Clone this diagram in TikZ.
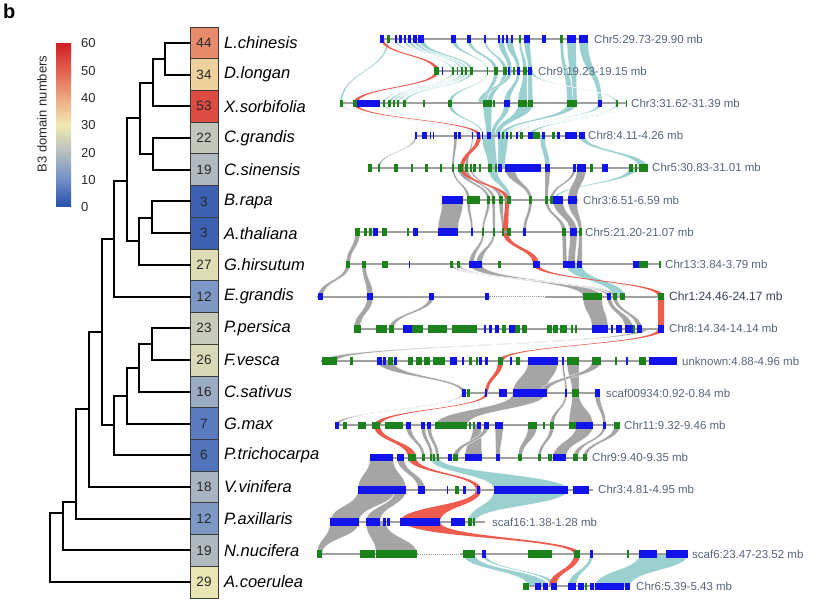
\documentclass[tikz,border=0pt]{standalone}
\usepackage{fontspec}
\setmainfont{Liberation Sans}
\usepackage{xcolor}
\usepackage{tikz}
\usetikzlibrary{calc}
% colour map of the B3 domain numbers
\definecolor{c0}{RGB}{38,78,170}
\definecolor{c1}{RGB}{112,142,200}
\definecolor{c2}{RGB}{182,190,190}
\definecolor{c3}{RGB}{240,234,178}
\definecolor{c4}{RGB}{236,168,126}
\definecolor{c5}{RGB}{226,96,76}
\definecolor{c6}{RGB}{208,30,38}
\definecolor{gB}{RGB}{18,18,235}
\definecolor{gG}{RGB}{28,130,28}
\definecolor{ribT}{RGB}{155,208,208}
\definecolor{ribG}{RGB}{165,165,165}
\definecolor{ribR}{RGB}{238,92,78}
\definecolor{labc}{RGB}{85,100,122}
\tikzstyle{tree}=[line width=2pt, line cap=rect]
\tikzstyle{nbox}=[draw={rgb,255:red,60;green,60;blue,60}, line width=.8pt, minimum width=28pt, minimum height=31.72pt, inner sep=0, font=\fontsize{13.5}{15}\selectfont, text={rgb,255:red,40;green,40;blue,40}]
\tikzstyle{sp}=[anchor=west, inner sep=0, font=\fontsize{16.5}{18}\selectfont\itshape]
\tikzstyle{tlab}=[anchor=west, inner sep=0, font=\fontsize{11.5}{13}\selectfont, text=labc]
\tikzstyle{tlabd}=[tlab, font=\fontsize{12}{13}\selectfont, text={rgb,255:red,55;green,65;blue,85}]
\tikzstyle{cbl}=[anchor=west, inner sep=0, font=\fontsize{13}{15}\selectfont, text={rgb,255:red,40;green,40;blue,40}]
\tikzstyle{bone}=[draw={rgb,255:red,160;green,160;blue,160}, line width=2pt]
\tikzstyle{rT}=[fill=ribT, draw=white, line width=.25pt]
\tikzstyle{rG}=[fill=ribG, draw=white, line width=.25pt]
\tikzstyle{rR}=[fill=ribR]
% ribbon between track #2 (#3..#4) and track #5 (#6..#7)
\newcommand{\rib}[7]{%
  \pgfmathsetmacro{\rya}{39+32.2*(#2-1)}%
  \pgfmathsetmacro{\ryb}{39+32.2*(#5-1)}%
  \pgfmathsetmacro{\rym}{(\rya+\ryb)/2}%
  \path[#1] (#3,\rya) .. controls (#3,\rym) and (#6,\rym) .. (#6,\ryb)
    -- (#7,\ryb) .. controls (#7,\rym) and (#4,\rym) .. (#4,\rya) -- cycle;}
% gene boxes on track #1
\newcommand{\genes}[2]{%
  \pgfmathsetmacro{\gy}{39+32.2*(#1-1)}%
  \foreach \a/\b/\c in {#2}{\fill[g\c] (\a,\gy-3.8) rectangle (\b,\gy+3.8);}}

\begin{document}
\begin{tikzpicture}[x=1pt,y=-1pt]
\useasboundingbox (0,0) rectangle (819,609);
\node[anchor=north west, inner sep=0, font=\fontsize{20}{22}\selectfont\bfseries] (panel) at (3,4) {b};

% colour bar
\foreach \k in {0,...,5}{
  \pgfmathtruncatemacro{\kn}{\k+1}
  \shade[bottom color=c\k, top color=c\kn] (56,{207-\k*27.33}) rectangle (71,{207-(\k+1)*27.33});
}
\foreach \t in {0,10,...,60}
  \node[cbl] (cb\t) at (81,{207.5-\t*164/60}) {\t};
\node[rotate=90, font=\fontsize{13}{15}\selectfont, text={rgb,255:red,40;green,40;blue,40}] (cbtitle) at (42,114) {B3 domain numbers};

% species boxes
\foreach \i/\v/\name in {1/44/L.chinesis, 2/34/D.longan, 3/53/X.sorbifolia, 4/22/C.grandis,
  5/19/C.sinensis, 6/3/B.rapa, 7/3/A.thaliana, 8/27/G.hirsutum, 9/12/E.grandis,
  10/23/P.persica, 11/26/F.vesca, 12/16/C.sativus, 13/7/G.max, 14/6/P.trichocarpa,
  15/18/V.vinifera, 16/12/P.axillaris, 17/19/N.nucifera, 18/29/A.coerulea}{
  \pgfmathsetmacro{\ry}{27+31.72*(\i-0.5)}
  \pgfmathtruncatemacro{\lo}{\v/10}
  \pgfmathtruncatemacro{\hi}{\lo+1}
  \pgfmathtruncatemacro{\pc}{(\v-10*\lo)*10}
  \colorlet{boxc}{c\hi!\pc!c\lo}
  \node[nbox, fill=boxc] (b\i) at (204,\ry) {\v};
  \node[sp] (s\i) at (224,\ry) {\name};
  \coordinate (t\i) at (190,\ry);
}

% tree
\coordinate (nA) at (165,59);
\coordinate (nB) at (153,83);
\coordinate (nC) at (153,154);
\coordinate (nD) at (140,118);
\coordinate (nE) at (152,218);
\coordinate (nF) at (139,241);
\coordinate (nG) at (127,181);
\coordinate (nH) at (114,239);
\coordinate (nI) at (152,344);
\coordinate (nJ) at (139,368);
\coordinate (nK) at (127,396);
\coordinate (nL) at (114,425);
\coordinate (nM) at (102,332);
\coordinate (nN) at (89,409);
\coordinate (nO) at (76,502);
\coordinate (nP) at (63,513);
\coordinate (root) at (50,545);
\draw[tree] (t1) -| (nA) (t2) -| (nA) (nA) -| (nB) (t3) -| (nB)
  (t4) -| (nC) (t5) -| (nC) (nB) -| (nD) (nC) -| (nD)
  (t6) -| (nE) (t7) -| (nE) (nE) -| (nF) (t8) -| (nF)
  (nD) -| (nG) (nF) -| (nG) (nG) -| (nH) (t9) -| (nH)
  (t10) -| (nI) (t11) -| (nI) (nI) -| (nJ) (t12) -| (nJ)
  (nJ) -| (nK) (t13) -| (nK) (nK) -| (nL) (t14) -| (nL)
  (nH) -| (nM) (nL) -| (nM) (nM) -| (nN) (t15) -| (nN)
  (nN) -| (nO) (t16) -| (nO) (nO) -| (nP) (t17) -| (nP)
  (nP) -| (root) (t18) -| (root);

% ribbons: teal
\foreach \i/\a/\b/\j/\c/\d in {1/395/397/2/452/454, 1/404/406/2/457/458, 1/408/411/2/461/463,
  1/413/417/2/465/467, 1/418/424/2/470/473, 1/451/456/2/487/488, 1/467/471/2/494/498,
  1/484/486/2/503/507, 1/498/504/2/508/512, 1/506/513/2/517/520, 1/519/521/2/523/527,
  1/524/530/2/528/532, 1/560/563/3/567/573, 1/567/576/3/573/577, 1/579/588/3/598/602,
  1/387/389/3/340/342, 2/442/443/3/343/344,
  2/452/454/3/383/385, 2/457/458/3/388/391, 2/461/463/3/393/395, 2/465/467/3/397/399,
  2/470/473/3/403/406, 2/487/488/3/448/452, 2/494/498/3/483/487, 2/503/507/3/487/492,
  2/508/512/3/478/483, 2/517/520/3/504/510, 2/523/527/3/518/527, 2/528/532/3/528/533,
  2/530/533/3/616/618, 3/340/342/4/472/474, 3/383/385/4/477/478, 3/448/452/4/482/484,
  3/483/492/4/486/491, 3/504/510/4/491/495, 3/518/533/4/495/500, 3/567/577/4/500/505,
  3/598/602/4/506/508, 3/616/618/4/516/518, 3/626/627/4/528/533, 4/482/495/5/488/497,
  4/498/508/5/498/505, 4/579/585/5/639/648, 4/540/545/5/545/550, 5/488/497/6/507/511,
  5/629/637/6/553/556, 8/566/582/9/613/625, 14/430/439/15/494/568, 15/494/568/16/468/475,
  17/463/475/18/528/548, 17/482/486/18/551/557, 17/590/593/18/568/576, 17/639/688/18/595/630}
  {\rib{rT}{\i}{\a}{\b}{\j}{\c}{\d}}

% ribbons: grey
\foreach \i/\a/\b/\j/\c/\d in {4/415/417/5/378/380, 4/454/457/5/452/454, 4/472/473/5/465/468,
  5/452/454/6/467/470, 5/458/463/6/487/490, 5/465/468/6/492/495, 5/470/472/6/499/503,
  5/505/515/6/529/532, 5/545/550/6/545/548, 5/573/576/6/550/553, 5/577/586/6/568/577,
  6/442/463/7/438/458, 6/467/470/7/471/473, 6/487/490/7/482/484, 6/492/495/7/493/495,
  6/499/503/7/502/504, 6/529/532/7/523/526, 6/545/548/7/562/566, 6/553/563/7/570/577,
  6/568/577/7/579/582, 7/355/360/8/346/350, 7/482/484/8/469/474, 7/493/495/8/476/482,
  7/562/566/8/563/567, 7/570/577/8/568/575, 7/579/582/8/577/582, 8/346/350/9/318/323,
  8/362/366/9/367/373, 8/469/482/9/583/602, 8/450/453/9/607/611, 8/457/460/9/613/617,
  9/367/373/10/354/360, 9/429/434/10/389/394, 9/583/602/10/592/608, 9/607/611/10/625/633,
  9/613/617/10/637/642, 10/640/648/11/322/337, 11/377/393/12/462/466, 11/528/558/12/513/546,
  11/562/564/12/565/567, 11/567/579/12/572/579, 11/592/601/12/540/547, 12/462/464/13/335/339,
  12/513/546/13/435/467, 12/565/567/13/550/554, 12/572/579/13/569/593, 12/595/600/13/603/606,
  13/406/411/14/422/425, 13/421/425/14/430/433, 13/427/431/14/436/439, 13/473/481/14/465/482,
  13/484/489/14/453/458, 13/495/503/14/496/500, 13/528/537/14/518/522, 13/550/554/14/538/541,
  13/576/593/14/553/566, 13/603/606/14/573/578, 13/614/620/14/583/587, 14/370/393/15/358/406,
  14/397/404/15/418/425, 15/358/395/16/330/359, 15/395/406/16/366/380, 16/330/359/17/317/322,
  16/366/386/17/376/417}
  {\rib{rG}{\i}{\a}{\b}{\j}{\c}{\d}}

% ribbons: red
\foreach \i/\a/\b/\j/\c/\d in {1/381/384/2/435/439, 2/435/439/3/353/357, 3/353/357/4/477/481,
  4/477/481/5/460/464, 5/460/464/6/505/509, 6/505/509/7/503/508, 7/503/508/8/533/539,
  8/533/539/9/658/664, 9/658/664/10/658/664, 10/658/664/11/498/503, 11/498/503/12/485/488,
  12/485/488/13/374/380, 13/374/380/14/408/416, 14/408/416/15/476/481, 15/476/481/16/400/440,
  16/405/440/17/574/580, 17/574/580/18/549/556}
  {\rib{rR}{\i}{\a}{\b}{\j}{\c}{\d}}

% tracks
\foreach \i/\xa/\xb/\lx/\ls/\lab in {1/380/588/594/tlab/{Chr5:29.73-29.90 mb}, 2/434/533/538/tlab/{Chr9:19.23-19.15 mb},
  3/340/627/631/tlab/{Chr3:31.62-31.39 mb}, 4/415/585/588/tlab/{Chr8:4.11-4.26 mb},
  5/368/648/652/tlab/{Chr5:30.83-31.01 mb}, 6/442/578/583/tlab/{Chr3:6.51-6.59 mb},
  7/356/582/585/tlab/{Chr5:21.20-21.07 mb}, 8/346/661/665/tlab/{Chr13:3.84-3.79 mb},
  9/317/664/669/tlabd/{Chr1:24.46-24.17 mb}, 10/355/664/669/tlab/{Chr8:14.34-14.14 mb},
  11/321/677/682/tlab/{unknown:4.88-4.96 mb}, 12/462/600/606/tlab/{scaf00934:0.92-0.84 mb},
  13/335/620/624/tlab/{Chr11:9.32-9.46 mb}, 14/370/588/592/tlab/{Chr9:9.40-9.35 mb},
  15/358/593/598/tlab/{Chr3:4.81-4.95 mb}, 16/330/485/492/tlab/{scaf16:1.38-1.28 mb},
  17/317/688/692/tlab/{scaf6:23.47-23.52 mb}, 18/523/630/636/tlab/{Chr6:5.39-5.43 mb}}{
  \pgfmathsetmacro{\ty}{39+32.2*(\i-1)}
  \draw[bone] (\xa,\ty) -- (\xb,\ty);
  \node[\ls] (l\i) at (\lx,\ty) {\lab};
}
\foreach \i/\xa/\xb in {9/490/545, 17/418/460}{
  \pgfmathsetmacro{\ty}{39+32.2*(\i-1)}
  \draw[white, line width=3pt] (\xa,\ty) -- (\xb,\ty);
  \draw[bone, line width=.9pt, densely dotted] (\xa,\ty) -- (\xb,\ty);
}

% genes
\genes{1}{380/384/B, 387/390/G, 395/397/B, 399/402/B, 404/406/B, 408/411/B, 413/417/B, 418/424/B,
  451/456/B, 467/471/B, 484/486/B, 498/500/B, 502/504/B, 506/508/B, 511/513/B, 519/521/G, 524/530/B,
  542/546/B, 560/563/G, 567/576/B, 579/588/B}
\genes{2}{434/439/G, 442/443/B, 452/454/G, 457/458/G, 461/463/G, 465/467/G, 470/473/G, 487/488/G,
  494/498/G, 503/507/G, 508/510/B, 513/515/G, 517/520/B, 523/527/G, 528/532/B}
\genes{3}{340/343/G, 353/357/G, 357/380/B, 383/385/G, 388/391/G, 393/395/G, 397/399/G, 403/406/G,
  423/425/G, 448/452/G, 483/492/G, 493/495/G, 504/510/B, 518/527/G, 528/533/G, 567/573/G, 573/577/G,
  598/602/B, 616/618/G, 626/627/G}
\genes{4}{415/417/B, 422/427/B, 430/431/B, 433/434/B, 454/457/B, 458/461/B, 472/473/B, 477/480/B,
  482/483/B, 487/491/B, 498/500/B, 502/504/G, 506/508/B, 510/512/G, 516/518/B, 520/523/G, 528/533/B,
  533/540/G, 542/545/B, 552/555/G, 557/560/B, 565/577/B, 579/585/B}
\genes{5}{368/372/G, 378/380/G, 394/398/G, 411/413/G, 425/428/G, 440/442/G, 452/454/G, 458/463/G,
  465/468/G, 470/472/G, 473/476/G, 479/481/G, 488/492/G, 495/497/G, 498/502/B, 505/541/B, 545/550/B,
  573/576/B, 577/586/B, 590/593/G, 602/608/B, 629/633/G, 635/637/G, 639/648/G}
\genes{6}{442/463/B, 467/480/G, 487/490/G, 492/495/G, 499/503/G, 507/511/G, 529/532/G, 545/548/G,
  550/553/G, 553/563/B, 568/577/B}
\genes{7}{355/360/G, 364/367/G, 369/372/G, 373/378/B, 382/387/G, 407/409/G, 413/418/B, 438/458/B,
  471/473/B, 482/484/G, 493/495/G, 502/504/G, 507/511/G, 523/526/B, 562/566/G, 570/577/B, 579/582/G}
\genes{8}{346/350/G, 362/366/G, 382/388/G, 409/410/B, 450/453/G, 457/460/G, 469/482/B, 498/501/G,
  533/540/B, 563/575/B, 577/582/B, 633/639/B, 639/648/G, 659/661/G}
\genes{9}{318/323/B, 367/373/B, 429/434/B, 485/489/B, 583/602/G, 607/611/B, 613/617/G, 620/625/G,
  658/664/G}
\genes{10}{354/361/G, 376/387/G, 389/394/G, 403/412/B, 412/423/G, 428/447/G, 452/477/G, 484/486/B,
  489/492/B, 495/499/B, 502/506/G, 509/515/B, 515/520/G, 522/527/G, 547/552/G, 553/558/G, 560/567/G,
  571/573/G, 575/577/G, 592/608/B, 611/613/B, 616/622/B, 625/633/B, 633/635/G, 637/642/B, 658/664/B}
\genes{11}{322/337/G, 350/353/G, 377/382/B, 383/386/B, 388/393/G, 394/397/B, 408/413/G, 416/422/G,
  424/430/G, 433/445/G, 450/457/B, 462/464/B, 469/472/G, 476/478/G, 479/482/B, 485/488/B, 498/503/G,
  510/512/B, 516/520/G, 528/558/B, 562/564/B, 567/579/G, 592/601/G, 615/617/G, 626/628/B, 639/646/G,
  649/677/B}
\genes{12}{462/466/B, 467/470/G, 485/487/B, 499/507/B, 513/547/B, 565/567/B, 572/579/G, 595/600/B}
\genes{13}{335/339/B, 343/347/G, 358/366/G, 372/380/G, 385/403/G, 406/411/B, 421/425/B, 427/431/B,
  435/467/G, 469/471/G, 473/475/G, 477/481/B, 484/489/B, 495/503/B, 528/537/G, 543/545/G, 550/554/G,
  569/576/G, 576/593/B, 603/606/B, 614/620/G}
\genes{14}{370/393/B, 397/404/B, 408/416/G, 422/425/G, 430/432/G, 433/435/G, 437/439/G, 448/452/B,
  453/458/G, 465/482/B, 496/500/B, 518/522/G, 538/541/G, 548/552/G, 553/566/B, 573/578/G, 583/587/G}
\genes{15}{358/406/B, 418/425/B, 447/448/B, 455/459/G, 463/466/B, 477/480/B, 494/568/B, 573/589/B}
\genes{16}{330/359/B, 366/380/B, 383/386/B, 387/390/B, 400/440/B, 451/465/B, 468/472/G, 473/475/G}
\genes{17}{317/322/G, 360/375/G, 376/417/G, 463/475/G, 482/486/B, 528/552/G, 574/580/G, 590/593/B,
  627/629/G, 639/657/B, 666/688/B}
\genes{18}{523/529/G, 535/541/B, 543/548/B, 551/557/B, 568/576/B, 578/584/B, 585/587/G, 590/594/B,
  595/624/B, 625/630/B}
\end{tikzpicture}
\end{document}
